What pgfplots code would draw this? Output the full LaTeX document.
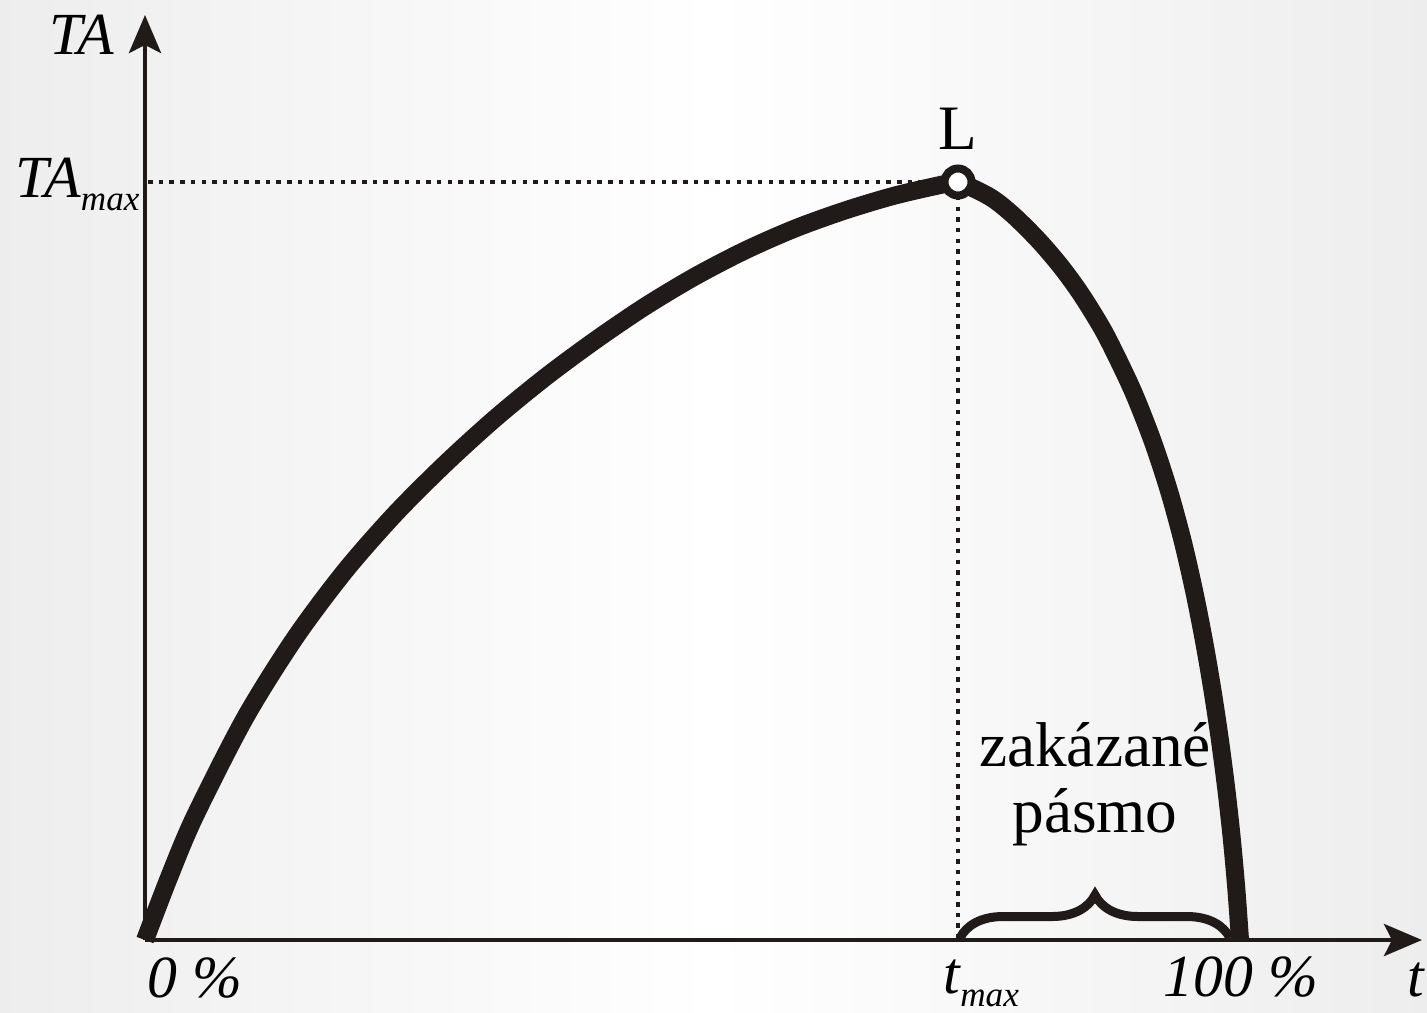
\documentclass[border=0pt]{standalone}
\usepackage{fontspec}
\setmainfont{Liberation Serif}
\usepackage{pgfplots}
\pgfplotsset{compat=1.18}
\usetikzlibrary{arrows.meta,decorations.pathreplacing}
\definecolor{ink}{HTML}{201B18}

% curve, 1 unit = 1 px of the reference
\pgfplotstableread{
x y
0 0
25 65
50 124
100 222
150 302
200 369
250 426
300 476
350 521.5
400 562.5
450 599.5
500 633.5
550 663.5
600 689.5
650 711.5
700 729.5
750 744.5
800 756
813 758
845 743
868 725
893.2 700
914.7 675
933.2 650
949.2 625
963.4 600
987.4 550
1007.2 500
1023.7 450
1037.4 400
1048.9 350
1058.8 300
1067.4 250
1074.9 200
1081.4 150
1086.9 100
1091.4 50
1095 0
}\tacurve

\newcommand\labfont{\fontsize{17}{19}\selectfont\itshape}
\newcommand\subfont{\fontsize{10}{10}\selectfont\itshape}

\begin{document}
\begin{tikzpicture}
\shade[left color=black!7, right color=black!7, middle color=white]
  (-14.5mm,-7.2mm) rectangle (128.2mm,94mm);
\begin{axis}[
  scale only axis, width=127.7mm, height=92.5mm,
  xmin=0, xmax=1277, ymin=0, ymax=925,
  axis lines=left,
  axis line style={ink, line width=0.45mm,
    -{Stealth[length=3.8mm,width=3.2mm,inset=0.8mm]}},
  ticks=none,
  clip=false,
]
\path (axis cs:-145,-72) rectangle (axis cs:1282,940);

\draw[ink, line width=0.45mm, dash pattern=on 0.45mm off 0.62mm]
  (axis cs:3,758) -- (axis cs:813,758) -- (axis cs:813,0);

\addplot[ink, line width=1.8mm, smooth, line cap=butt] table {\tacurve};
\addplot[only marks, mark=*, mark size=1.35mm,
  mark options={fill=white, draw=ink, line width=0.8mm}] coordinates {(813,758)};

\draw[ink, line width=0.9mm, decorate, decoration={brace, amplitude=4.3mm}]
  (axis cs:815,2) -- (axis cs:1085,2);

\node[anchor=base east, inner sep=0, font=\labfont] at (axis cs:-30,885) {TA};
\node[anchor=base west, inner sep=0] at (axis cs:-130,743)
  {\labfont TA\raisebox{-1.3mm}{\subfont max}};
\node[anchor=base, inner sep=0, font=\fontsize{18}{20}\selectfont] at (axis cs:813,790) {L};

\node[anchor=base west, inner sep=0, font=\labfont] at (axis cs:2,-57) {0 \%};
\node[anchor=base west, inner sep=0, font=\labfont] at (axis cs:1018,-56) {100 \%};
\node[anchor=base east, inner sep=0, font=\labfont] at (axis cs:1280,-56) {t};
\node[anchor=base west, inner sep=0] at (axis cs:798,-53)
  {\labfont t\raisebox{-1.3mm}{\subfont max}};

\node[align=center, inner sep=0, anchor=base, font=\fontsize{18}{18.5}\selectfont]
  at (axis cs:950,108) {zakázané\\pásmo};
\end{axis}
\end{tikzpicture}
\end{document}
